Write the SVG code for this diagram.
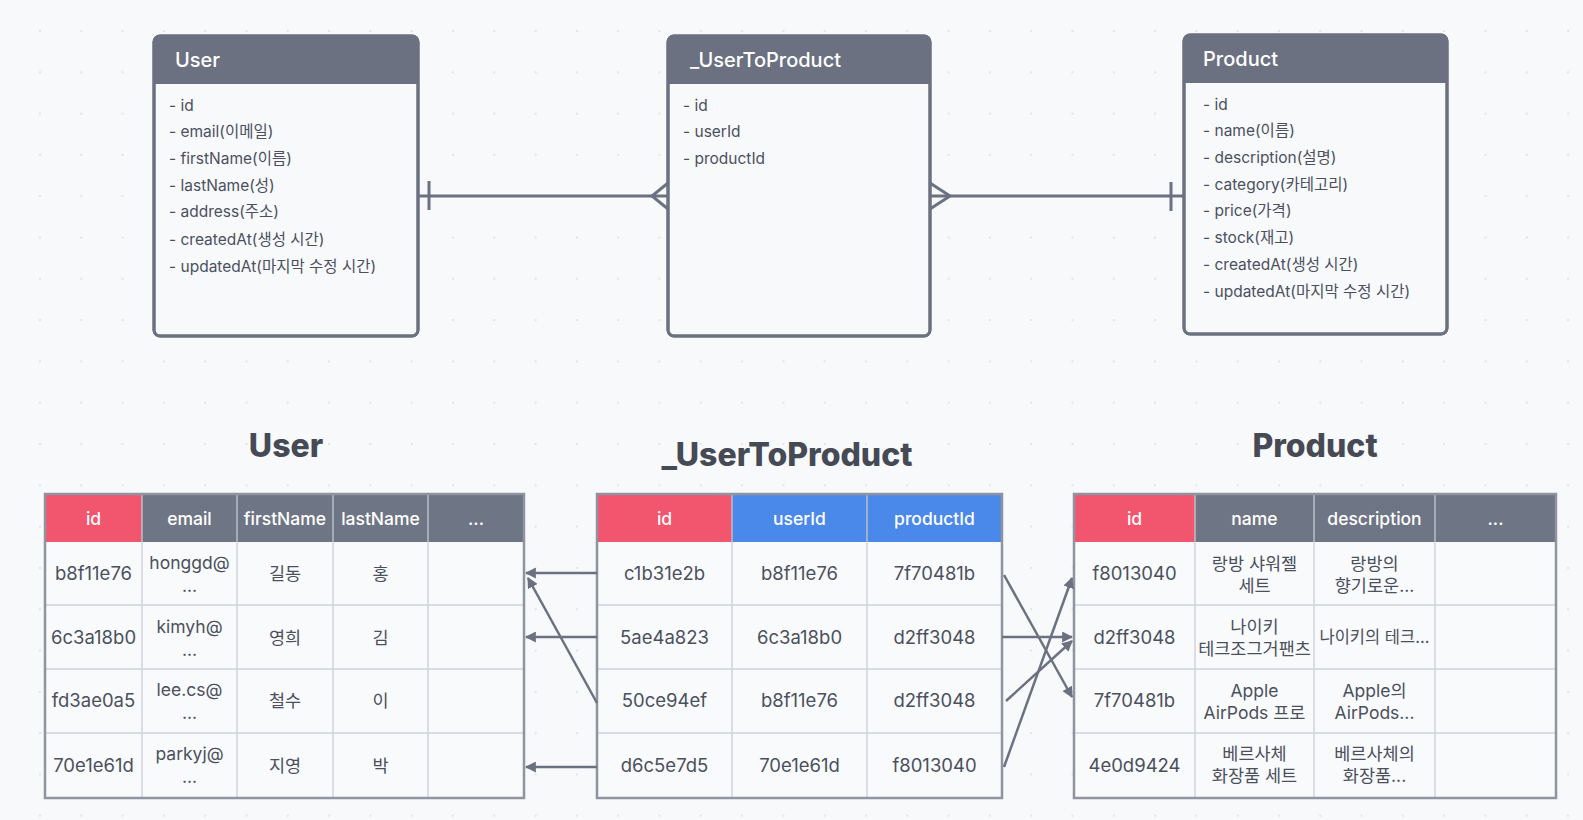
<svg xmlns="http://www.w3.org/2000/svg" width="1583" height="820" viewBox="0 0 1583 820">
<defs>
<pattern id="dots" x="39" y="30" width="41.3" height="41.3" patternUnits="userSpaceOnUse">
<circle cx="1" cy="1" r="1.1" fill="#e0e2e8"/>
</pattern>
<marker id="arr" viewBox="0 0 10 10" refX="9" refY="5" markerWidth="11" markerHeight="11" markerUnits="userSpaceOnUse" orient="auto">
<path d="M0,0 L10,5 L0,10 z" fill="#6b7180"/>
</marker>
<style>
.f{font-family:Inter,"Noto Sans CJK KR","Noto Sans",sans-serif}
.box{fill:#f8f9fb;stroke:#6b7180;stroke-width:3}
.hdr{fill:#6b7180}
.ht{font-size:20px;fill:#ffffff;font-weight:500}
.it{font-size:15.5px;fill:#4b5060}
.rel{stroke:#6b7180;stroke-width:3;fill:none}
.title{font-size:32px;font-weight:800;fill:#454a55;text-anchor:middle}
.th{font-size:17.5px;fill:#ffffff;text-anchor:middle;font-weight:500}
.td{font-size:18.5px;fill:#4b505c;text-anchor:middle}
.te{font-size:17.5px;fill:#4b505c;text-anchor:middle}
.tk{font-size:17.5px;fill:#4b505c;text-anchor:middle}
.body{fill:#f9fafc}
.grid{stroke:#cfd4dc;stroke-width:1.5;fill:none}
.hsep{stroke:#b9bfca;stroke-width:1.5}
.outer{fill:none;stroke:#8e94a0;stroke-width:2.5}
.red{fill:#f2566e}
.blue{fill:#4a89ea}
.gray{fill:#6e7585}
.arrow{stroke:#6b7180;stroke-width:2.5;fill:none;marker-end:url(#arr)}
</style>
</defs>
<rect width="1583" height="820" fill="#f8f9fb"/>
<rect width="1583" height="820" fill="url(#dots)"/>

<!-- ER: User -->
<g id="er-user" class="f">
<rect class="box" x="154" y="36" width="264" height="300" rx="6"/>
<path class="hdr" d="M154,42 a6,6 0 0 1 6,-6 h252 a6,6 0 0 1 6,6 v42 h-264 z"/>
<rect x="154" y="36" width="264" height="300" rx="6" fill="none" stroke="#6b7180" stroke-width="3"/>
<text class="ht" x="175" y="67">User</text>
<text class="it" x="169" y="111">- id</text>
<text class="it" x="169" y="137">- email(이메일)</text>
<text class="it" x="169" y="164">- firstName(이름)</text>
<text class="it" x="169" y="191">- lastName(성)</text>
<text class="it" x="169" y="217">- address(주소)</text>
<text class="it" x="169" y="245">- createdAt(생성 시간)</text>
<text class="it" x="169" y="272">- updatedAt(마지막 수정 시간)</text>
</g>

<!-- ER: _UserToProduct -->
<g id="er-usertoproduct" class="f">
<rect class="box" x="668" y="36" width="262" height="300" rx="6"/>
<path class="hdr" d="M668,42 a6,6 0 0 1 6,-6 h250 a6,6 0 0 1 6,6 v42 h-262 z"/>
<rect x="668" y="36" width="262" height="300" rx="6" fill="none" stroke="#6b7180" stroke-width="3"/>
<text class="ht" x="690" y="67">_UserToProduct</text>
<text class="it" x="683" y="111">- id</text>
<text class="it" x="683" y="137">- userId</text>
<text class="it" x="683" y="164">- productId</text>
</g>

<!-- ER: Product -->
<g id="er-product" class="f">
<rect class="box" x="1184" y="35" width="263" height="299" rx="6"/>
<path class="hdr" d="M1184,41 a6,6 0 0 1 6,-6 h251 a6,6 0 0 1 6,6 v42 h-263 z"/>
<rect x="1184" y="35" width="263" height="299" rx="6" fill="none" stroke="#6b7180" stroke-width="3"/>
<text class="ht" x="1203" y="66">Product</text>
<text class="it" x="1203" y="110">- id</text>
<text class="it" x="1203" y="136">- name(이름)</text>
<text class="it" x="1203" y="163">- description(설명)</text>
<text class="it" x="1203" y="190">- category(카테고리)</text>
<text class="it" x="1203" y="216">- price(가격)</text>
<text class="it" x="1203" y="243">- stock(재고)</text>
<text class="it" x="1203" y="270">- createdAt(생성 시간)</text>
<text class="it" x="1203" y="297">- updatedAt(마지막 수정 시간)</text>
</g>

<!-- ER relations -->
<g id="er-relations">
<line class="rel" x1="418" y1="196" x2="668" y2="196"/>
<line class="rel" x1="429" y1="181" x2="429" y2="210"/>
<polyline class="rel" points="668,183 652,196 668,209"/>
<line class="rel" x1="930" y1="196" x2="1184" y2="196"/>
<polyline class="rel" points="930,183 950,196 930,209"/>
<line class="rel" x1="1171" y1="182" x2="1171" y2="211"/>
</g>

<!-- Titles -->
<text class="f title" x="286" y="457">User</text>
<text class="f title" x="787" y="466">_UserToProduct</text>
<text class="f title" x="1315" y="457">Product</text>

<!-- Table: User -->
<g id="tbl-user" class="f">
<rect class="body" x="45" y="494" width="479" height="304"/>
<rect class="red" x="45" y="494" width="97" height="48"/>
<rect class="gray" x="142" y="494" width="382" height="48"/>
<line class="hsep" x1="142" y1="494" x2="142" y2="542"/>
<line class="hsep" x1="237" y1="494" x2="237" y2="542"/>
<line class="hsep" x1="333" y1="494" x2="333" y2="542"/>
<line class="hsep" x1="428" y1="494" x2="428" y2="542"/>
<path class="grid" d="M142,542 V798 M237,542 V798 M333,542 V798 M428,542 V798 M45,605 H524 M45,669 H524 M45,733 H524"/>
<rect class="outer" x="45" y="494" width="479" height="304"/>
<text class="th" x="93.5" y="525">id</text>
<text class="th" x="189.5" y="525">email</text>
<text class="th" x="285" y="525">firstName</text>
<text class="th" x="380.5" y="525">lastName</text>
<text class="th" x="476" y="525">...</text>
<text class="td" x="93.5" y="580">b8f11e76</text>
<text class="te" x="189.5" y="569">honggd@</text>
<text class="te" x="189.5" y="592">...</text>
<text class="tk" x="285" y="580">길동</text>
<text class="tk" x="380.5" y="580">홍</text>
<text class="td" x="93.5" y="644">6c3a18b0</text>
<text class="te" x="189.5" y="633">kimyh@</text>
<text class="te" x="189.5" y="656">...</text>
<text class="tk" x="285" y="644">영희</text>
<text class="tk" x="380.5" y="644">김</text>
<text class="td" x="93.5" y="707">fd3ae0a5</text>
<text class="te" x="189.5" y="696">lee.cs@</text>
<text class="te" x="189.5" y="719">...</text>
<text class="tk" x="285" y="707">철수</text>
<text class="tk" x="380.5" y="707">이</text>
<text class="td" x="93.5" y="772">70e1e61d</text>
<text class="te" x="189.5" y="760">parkyj@</text>
<text class="te" x="189.5" y="783">...</text>
<text class="tk" x="285" y="772">지영</text>
<text class="tk" x="380.5" y="772">박</text>
</g>

<!-- Table: _UserToProduct -->
<g id="tbl-usertoproduct" class="f">
<rect class="body" x="597" y="494" width="405" height="304"/>
<rect class="red" x="597" y="494" width="135" height="48"/>
<rect class="blue" x="732" y="494" width="270" height="48"/>
<line class="hsep" x1="732" y1="494" x2="732" y2="542"/>
<line class="hsep" x1="867" y1="494" x2="867" y2="542"/>
<path class="grid" d="M732,542 V798 M867,542 V798 M597,605 H1002 M597,669 H1002 M597,733 H1002"/>
<rect class="outer" x="597" y="494" width="405" height="304"/>
<text class="th" x="664.5" y="525">id</text>
<text class="th" x="799.5" y="525">userId</text>
<text class="th" x="934.5" y="525">productId</text>
<text class="td" x="664.5" y="580">c1b31e2b</text>
<text class="td" x="799.5" y="580">b8f11e76</text>
<text class="td" x="934.5" y="580">7f70481b</text>
<text class="td" x="664.5" y="644">5ae4a823</text>
<text class="td" x="799.5" y="644">6c3a18b0</text>
<text class="td" x="934.5" y="644">d2ff3048</text>
<text class="td" x="664.5" y="707">50ce94ef</text>
<text class="td" x="799.5" y="707">b8f11e76</text>
<text class="td" x="934.5" y="707">d2ff3048</text>
<text class="td" x="664.5" y="772">d6c5e7d5</text>
<text class="td" x="799.5" y="772">70e1e61d</text>
<text class="td" x="934.5" y="772">f8013040</text>
</g>

<!-- Table: Product -->
<g id="tbl-product" class="f">
<rect class="body" x="1074" y="494" width="482" height="304"/>
<rect class="red" x="1074" y="494" width="121" height="48"/>
<rect class="gray" x="1195" y="494" width="361" height="48"/>
<line class="hsep" x1="1195" y1="494" x2="1195" y2="542"/>
<line class="hsep" x1="1314" y1="494" x2="1314" y2="542"/>
<line class="hsep" x1="1435" y1="494" x2="1435" y2="542"/>
<path class="grid" d="M1195,542 V798 M1314,542 V798 M1435,542 V798 M1074,605 H1556 M1074,669 H1556 M1074,733 H1556"/>
<rect class="outer" x="1074" y="494" width="482" height="304"/>
<text class="th" x="1134.5" y="525">id</text>
<text class="th" x="1254.5" y="525">name</text>
<text class="th" x="1374.5" y="525">description</text>
<text class="th" x="1495.5" y="525">...</text>
<text class="td" x="1134.5" y="580">f8013040</text>
<text class="tk" x="1254.5" y="570">랑방 샤워젤</text>
<text class="tk" x="1254.5" y="592">세트</text>
<text class="tk" x="1374.5" y="570">랑방의</text>
<text class="tk" x="1374.5" y="592">향기로운...</text>
<text class="td" x="1134.5" y="644">d2ff3048</text>
<text class="tk" x="1254.5" y="633">나이키</text>
<text class="tk" x="1254.5" y="655">테크조그거팬츠</text>
<text class="tk" x="1374.5" y="643" style="font-size:16.5px">나이키의 테크...</text>
<text class="td" x="1134.5" y="707">7f70481b</text>
<text class="tk" x="1254.5" y="697">Apple</text>
<text class="tk" x="1254.5" y="719">AirPods 프로</text>
<text class="tk" x="1374.5" y="697">Apple의</text>
<text class="tk" x="1374.5" y="719">AirPods...</text>
<text class="td" x="1134.5" y="772">4e0d9424</text>
<text class="tk" x="1254.5" y="760">베르사체</text>
<text class="tk" x="1254.5" y="782">화장품 세트</text>
<text class="tk" x="1374.5" y="760">베르사체의</text>
<text class="tk" x="1374.5" y="782">화장품...</text>
</g>

<!-- Connectors between tables -->
<g id="connectors">
<line class="arrow" x1="597" y1="573" x2="526" y2="573"/>
<line class="arrow" x1="597" y1="637" x2="526" y2="637"/>
<line class="arrow" x1="597" y1="703" x2="528" y2="578"/>
<line class="arrow" x1="597" y1="767" x2="526" y2="767"/>
<line class="arrow" x1="1004" y1="575" x2="1072" y2="697"/>
<line class="arrow" x1="1002" y1="637" x2="1072" y2="637"/>
<line class="arrow" x1="1006" y1="701" x2="1072" y2="641"/>
<line class="arrow" x1="1004" y1="767" x2="1072" y2="578"/>
</g>
</svg>
